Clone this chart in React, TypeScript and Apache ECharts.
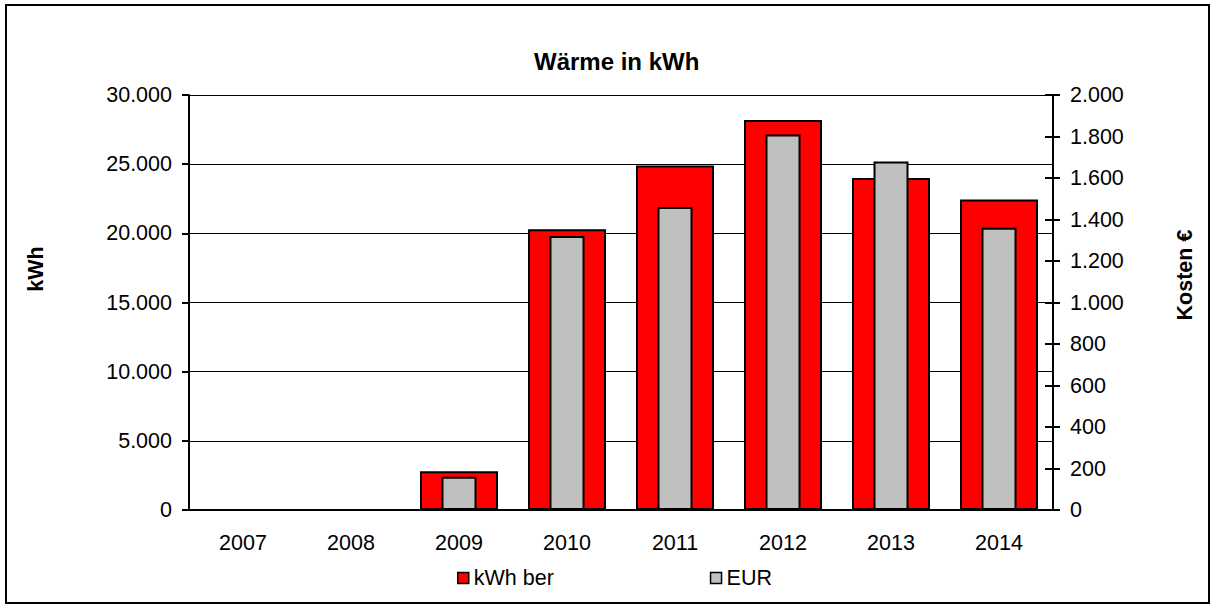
import React, { useEffect, useRef } from "react";
import * as echarts from "echarts";

const years = ["2007", "2008", "2009", "2010", "2011", "2012", "2013", "2014"];
const kwhBer = [0, 0, 2800, 20300, 24900, 28200, 24000, 22450];
const eur = [0, 0, 160, 1320, 1460, 1810, 1680, 1360];

const FONT = "'Liberation Sans', Arial, sans-serif";
const FS = 21.5;
const fmt = (v: number) => {
  const s = Math.round(v).toString();
  return s.replace(/\B(?=(\d{3})+(?!\d))/g, ".");
};

export default function App() {
  const ref = useRef<HTMLDivElement>(null);
  useEffect(() => {
    if (!ref.current) return;
    const chart = echarts.init(ref.current, null, { renderer: "svg" });
    chart.setOption({
      animation: false,
      backgroundColor: "#fff",
      textStyle: { fontFamily: FONT },
      title: {
        text: "Wärme in kWh",
        left: 529,
        top: 44,
        textStyle: { fontFamily: FONT, fontSize: 24, fontWeight: "bold", color: "#000" },
      },
      legend: {
        top: 562,
        left: 452,
        itemGap: 156,
        itemWidth: 11,
        itemHeight: 11,
        icon: "rect",
        textStyle: { fontFamily: FONT, fontSize: FS, color: "#000" },
        data: [
          { name: "kWh ber", itemStyle: { color: "#FF0000", borderColor: "#000", borderWidth: 1.5 } },
          { name: "EUR", itemStyle: { color: "#C0C0C0", borderColor: "#000", borderWidth: 1.5 } },
        ],
      },
      graphic: [
        {
          type: "rect",
          shape: { x: 6, y: 5, width: 1203, height: 598 },
          style: { fill: "none", stroke: "#000", lineWidth: 2 },
          silent: true,
        },
        {
          type: "text",
          x: 36,
          y: 269,
          rotation: Math.PI / 2,
          style: {
            text: "kWh",
            fontFamily: FONT,
            fontSize: FS,
            fontWeight: "bold",
            fill: "#000",
            align: "center",
            verticalAlign: "middle",
          },
        },
        {
          type: "text",
          x: 1185,
          y: 275,
          rotation: Math.PI / 2,
          style: {
            text: "Kosten €",
            fontFamily: FONT,
            fontSize: FS,
            fontWeight: "bold",
            fill: "#000",
            align: "center",
            verticalAlign: "middle",
          },
        },
      ],
      grid: { left: 189, right: 162, top: 95, bottom: 98 },
      xAxis: [
        {
          type: "category",
          data: years,
          axisLine: { lineStyle: { color: "#000", width: 2 } },
          axisTick: { length: 5, lineStyle: { color: "#000", width: 2 } },
          axisLabel: { color: "#000", fontSize: FS, fontFamily: FONT, margin: 22 },
        },
        {
          type: "category",
          data: years,
          show: false,
        },
      ],
      yAxis: [
        {
          type: "value",
          min: 0,
          max: 30000,
          interval: 5000,
          axisLine: { show: true, lineStyle: { color: "#000", width: 2 } },
          axisTick: { show: true, length: 7, lineStyle: { color: "#000", width: 2 } },
          axisLabel: { color: "#000", fontSize: FS, fontFamily: FONT, margin: 17, formatter: fmt },
          splitLine: { show: true, lineStyle: { color: "#000", width: 1 } },
        },
        {
          type: "value",
          position: "right",
          min: 0,
          max: 2000,
          interval: 200,
          axisLine: { show: true, lineStyle: { color: "#000", width: 2 } },
          axisTick: { show: true, length: 7, lineStyle: { color: "#000", width: 2 } },
          axisLabel: { color: "#000", fontSize: FS, fontFamily: FONT, margin: 17, formatter: fmt },
          splitLine: { show: false },
        },
        {
          type: "value",
          position: "right",
          min: 0,
          max: 2000,
          interval: 200,
          axisLine: { show: false },
          axisTick: { show: true, inside: true, length: 8, lineStyle: { color: "#000", width: 2 } },
          axisLabel: { show: false },
          splitLine: { show: false },
        },
      ],
      series: [
        {
          name: "kWh ber",
          type: "bar",
          xAxisIndex: 0,
          yAxisIndex: 0,
          data: kwhBer,
          barWidth: 78,
          itemStyle: { color: "#FF0000", borderColor: "#000", borderWidth: 2 },
          z: 2,
        },
        {
          name: "EUR",
          type: "bar",
          xAxisIndex: 1,
          yAxisIndex: 1,
          data: eur,
          barWidth: 35,
          itemStyle: { color: "#C0C0C0", borderColor: "#000", borderWidth: 2 },
          z: 3,
        },
      ],
    });
    return () => chart.dispose();
  }, []);
  return <div ref={ref} style={{ width: 1215, height: 608, position: "absolute", left: 0, top: 0 }} />;
}
